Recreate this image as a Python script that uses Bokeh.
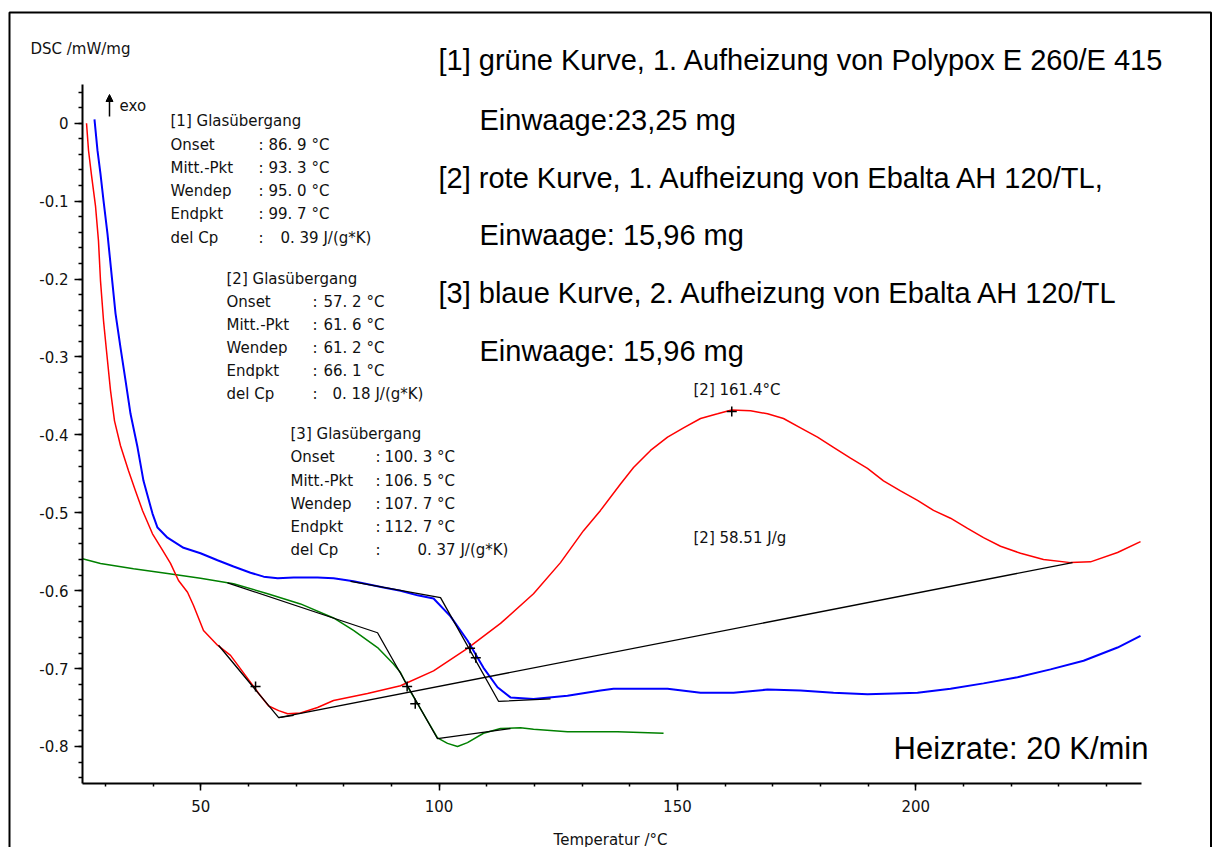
from bokeh.plotting import figure
from bokeh.models import Label, Range1d, FixedTicker, BoxAnnotation, Arrow, NormalHead
from bokeh.embed import file_html
from bokeh.resources import INLINE
from bokeh.core.properties import value

# ---------------- data (temperature °C, DSC mW/mg) ----------------
red_T = [26.04, 26.46, 27.09, 27.92, 28.55, 28.97, 29.60, 30.23, 31.07, 31.91, 33.17, 34.85, 36.32,
         37.78, 39.88, 41.98, 43.66, 45.34, 47.23, 48.49, 50.58, 53.52, 56.25, 59.40, 62.16, 64.25,
         66.35, 68.24, 70.93, 74.50, 77.86, 84.99, 91.91, 98.84, 105.96, 112.89, 119.81, 125.47,
         130.30, 133.86, 138.06, 140.79, 144.36, 147.93, 151.28, 154.85, 158.41, 161.35, 165.34,
         168.90, 172.25, 175.82, 179.39, 182.74, 186.31, 189.87, 193.23, 196.80, 200.37, 203.72,
         207.29, 210.86, 214.21, 217.78, 221.98, 226.80, 232.47, 236.66, 242.33, 247.15]
red_V = [0.000, -0.035, -0.067, -0.106, -0.151, -0.202, -0.253, -0.292, -0.343, -0.382, -0.414, -0.446,
         -0.472, -0.497, -0.527, -0.548, -0.565, -0.587, -0.602, -0.619, -0.651, -0.670, -0.683, -0.709,
         -0.732, -0.748, -0.754, -0.758, -0.757, -0.750, -0.741, -0.732, -0.722, -0.703, -0.674, -0.642,
         -0.604, -0.564, -0.523, -0.497, -0.463, -0.442, -0.420, -0.403, -0.391, -0.379, -0.373, -0.368,
         -0.369, -0.373, -0.379, -0.391, -0.403, -0.416, -0.430, -0.443, -0.459, -0.472, -0.484, -0.497,
         -0.507, -0.520, -0.532, -0.543, -0.552, -0.560, -0.564, -0.563, -0.551, -0.537]

blue_T = [27.71, 28.34, 28.97, 29.60, 30.44, 31.49, 32.12, 33.17, 34.22, 35.27, 36.74, 37.99, 39.88,
          40.93, 43.03, 46.39, 49.95, 53.52, 56.88, 60.44, 63.20, 66.14, 69.50, 74.50, 77.86, 82.05,
          88.35, 91.91, 95.48, 98.84, 102.40, 105.96, 109.32, 112.26, 114.98, 119.81, 126.94, 133.86,
          136.59, 147.93, 154.85, 161.77, 168.90, 175.82, 182.74, 189.87, 195.33, 200.37, 207.29,
          214.21, 221.35, 228.27, 235.20, 242.33, 247.15]
blue_V = [0.005, -0.035, -0.065, -0.099, -0.142, -0.206, -0.244, -0.288, -0.330, -0.373, -0.416, -0.459,
          -0.501, -0.519, -0.532, -0.545, -0.552, -0.561, -0.569, -0.577, -0.582, -0.584, -0.583, -0.583,
          -0.584, -0.588, -0.596, -0.600, -0.606, -0.610, -0.633, -0.664, -0.699, -0.724, -0.737, -0.739,
          -0.735, -0.728, -0.726, -0.726, -0.731, -0.731, -0.727, -0.728, -0.731, -0.733, -0.732, -0.731,
          -0.726, -0.719, -0.711, -0.701, -0.690, -0.673, -0.658]

green_T = [25.20, 28.97, 35.90, 43.03, 49.95, 56.88, 64.04, 70.93, 77.86, 82.05, 87.09, 90.44, 91.91,
           93.38, 95.48, 97.58, 99.67, 101.77, 103.87, 105.96, 109.32, 112.89, 117.08, 119.81, 126.94,
           137.43, 147.09]
green_V = [-0.559, -0.565, -0.572, -0.578, -0.584, -0.591, -0.604, -0.617, -0.635, -0.651, -0.673, -0.694,
           -0.705, -0.723, -0.745, -0.767, -0.789, -0.796, -0.800, -0.795, -0.783, -0.777, -0.776, -0.778,
           -0.781, -0.781, -0.783]

# evaluation constructions (tangents / baselines)
tg1_T = [55.62, 87.09, 99.67, 114.98]
tg1_V = [-0.590, -0.654, -0.790, -0.777]
tg2_T = [53.73, 66.35, 69.50]
tg2_V = [-0.670, -0.763, -0.760]
tg3_T = [81.42, 100.30, 112.47, 123.38]
tg3_V = [-0.588, -0.609, -0.742, -0.739]
peak_base_T = [66.35, 232.89]
peak_base_V = [-0.763, -0.564]
mark_T = [93.3, 95.0, 61.5, 106.5, 107.7, 161.4]
mark_V = [-0.723, -0.745, -0.723, -0.674, -0.686, -0.370]

y_ticks = [-0.8, -0.7, -0.6, -0.5, -0.4, -0.3, -0.2, -0.1, 0]
y_tick_labels = ["-0.8", "-0.7", "-0.6", "-0.5", "-0.4", "-0.3", "-0.2", "-0.1", "0"]
x_ticks = [50, 100, 150, 200]
x_axis_span = (25.2, 247.35)
y_axis_span = (-0.8471, 0.0497)

gt_rows = ["Onset", "Mitt.-Pkt", "Wendep", "Endpkt", "del Cp"]
gt1_vals = ["86. 9 °C", "93. 3 °C", "95. 0 °C", "99. 7 °C", "0. 39 J/(g*K)"]
gt2_vals = ["57. 2 °C", "61. 6 °C", "61. 2 °C", "66. 1 °C", "0. 18 J/(g*K)"]
gt3_vals = ["100. 3 °C", "106. 5 °C", "107. 7 °C", "112. 7 °C", "0. 37 J/(g*K)"]

info_lines = ["[1] grüne Kurve, 1. Aufheizung von Polypox E 260/E 415",
              "Einwaage:23,25 mg",
              "[2] rote Kurve, 1. Aufheizung von Ebalta AH 120/TL,",
              "Einwaage: 15,96 mg",
              "[3] blaue Kurve, 2. Aufheizung von Ebalta AH 120/TL",
              "Einwaage: 15,96 mg"]

# ---------------- layout helpers (canvas pixel -> data) ----------------
W, H = 1212, 847
def T(px):
    return 125 + (px - 557.75) * 0.20978

def V(py):
    return (122.7 - py) * 0.0012835

SMALL = "DejaVu Sans"
p = figure(width=W, height=H, output_backend="svg", toolbar_location=None,
           x_range=Range1d(T(0), T(W)), y_range=Range1d(V(H), V(0)), min_border=0)
p.xgrid.visible = False
p.ygrid.visible = False
p.outline_line_color = None
p.background_fill_color = "white"
p.border_fill_color = "white"

for ax in (p.xaxis[0], p.yaxis[0]):
    ax.axis_line_width = 2
    ax.axis_line_color = "black"
    ax.major_tick_line_width = 1.5
    ax.minor_tick_line_width = 1.5
    ax.major_tick_in = 0
    ax.minor_tick_in = 0
    ax.major_label_text_font = SMALL
    ax.major_label_text_font_size = "15px"
    ax.major_label_text_color = "#111111"

p.xaxis.fixed_location = y_axis_span[0]
p.xaxis.bounds = x_axis_span
p.xaxis.ticker = FixedTicker(ticks=x_ticks, minor_ticks=list(range(30, 250, 10)))
p.xaxis.major_tick_out = 7
p.xaxis.minor_tick_out = 3
p.xaxis.major_label_standoff = 10

p.yaxis.fixed_location = x_axis_span[0]
p.yaxis.bounds = y_axis_span
p.yaxis.ticker = FixedTicker(ticks=y_ticks, minor_ticks=[round(-0.84 + 0.02 * i, 2) for i in range(45)])
p.yaxis.major_tick_out = 8
p.yaxis.minor_tick_out = 4
p.yaxis.major_label_standoff = 6
p.yaxis.major_label_overrides = {t: s for t, s in zip(y_ticks, y_tick_labels)}

# curves
p.line(green_T, green_V, line_color="#008000", line_width=1.5)
p.line(red_T, red_V, line_color="#ff0000", line_width=1.5)
p.line(blue_T, blue_V, line_color="#0000ff", line_width=2)
for xs, ys in ((tg1_T, tg1_V), (tg2_T, tg2_V), (tg3_T, tg3_V), (peak_base_T, peak_base_V)):
    p.line(xs, ys, line_color="black", line_width=1.3)
p.scatter(mark_T, mark_V, marker="cross", size=10, line_color="black", line_width=1.5)

# outer picture frame
p.add_layout(BoxAnnotation(left=T(9), right=T(1210.5), top=V(12), bottom=V(900),
                           fill_alpha=0, line_color="black", line_alpha=1.0, line_width=2))

# axis titles
p.add_layout(Label(x=T(30), y=V(48), text="DSC /mW/mg", text_font=SMALL, text_font_size="15px",
                   text_baseline="middle", text_color="#111111"))
p.add_layout(Label(x=T(610), y=V(839), text="Temperatur /°C", text_font=SMALL, text_font_size="15px",
                   text_baseline="middle", text_align="center", text_color="#111111"))

# exo arrow
p.add_layout(Arrow(x_start=T(109), y_start=V(116), x_end=T(109), y_end=V(94), line_width=1.5,
                   end=NormalHead(size=7, fill_color="black", line_color="black")))
p.add_layout(Label(x=T(119), y=V(105), text="exo", text_font=SMALL, text_font_size="15px",
                   text_baseline="middle", text_color="#111111"))

# glass transition blocks
blocks = [("[1] Glasübergang", gt1_vals, 170, 258, [268, 268, 268, 268, 280], [120, 144, 167, 190, 213, 237]),
          ("[2] Glasübergang", gt2_vals, 226, 312, [323, 323, 323, 323, 332], [278, 301, 324, 347, 370, 393]),
          ("[3] Glasübergang", gt3_vals, 290, 375, [384, 384, 384, 384, 417], [433, 456, 480, 503, 526, 549])]
for title, vals, xl, xc, xv, rows in blocks:
    p.text(x=[T(xl)] * 6, y=[V(r) for r in rows], text=[title] + gt_rows, text_font=value(SMALL),
           text_font_size="15px", text_baseline="middle", text_color="#111111")
    p.text(x=[T(xc)] * 5, y=[V(r) for r in rows[1:]], text=[":"] * 5, text_font=value(SMALL),
           text_font_size="15px", text_baseline="middle", text_color="#111111")
    p.text(x=[T(v) for v in xv], y=[V(r) for r in rows[1:]], text=vals, text_font=value(SMALL),
           text_font_size="15px", text_baseline="middle", text_color="#111111")

p.text(x=[T(693), T(693)], y=[V(389), V(537)], text=["[2] 161.4°C", "[2] 58.51 J/g"], text_font=value(SMALL),
       text_font_size="15px", text_baseline="middle", text_color="#111111")

# info text
info_x = [438, 479, 438, 479, 438, 479]
info_base = [59, 119, 177, 234, 292, 350]
for s, xx, yy in zip(info_lines, info_x, info_base):
    p.add_layout(Label(x=T(xx), y=V(yy), text=s, text_font="Liberation Sans",
                       text_font_size="29px", text_baseline="alphabetic", text_color="black"))

p.add_layout(Label(x=T(893), y=V(748), text="Heizrate: 20 K/min", text_font="Liberation Sans",
                   text_font_size="31px", text_baseline="alphabetic", text_color="black"))

open("out.html", "w").write(file_html(p, INLINE))
